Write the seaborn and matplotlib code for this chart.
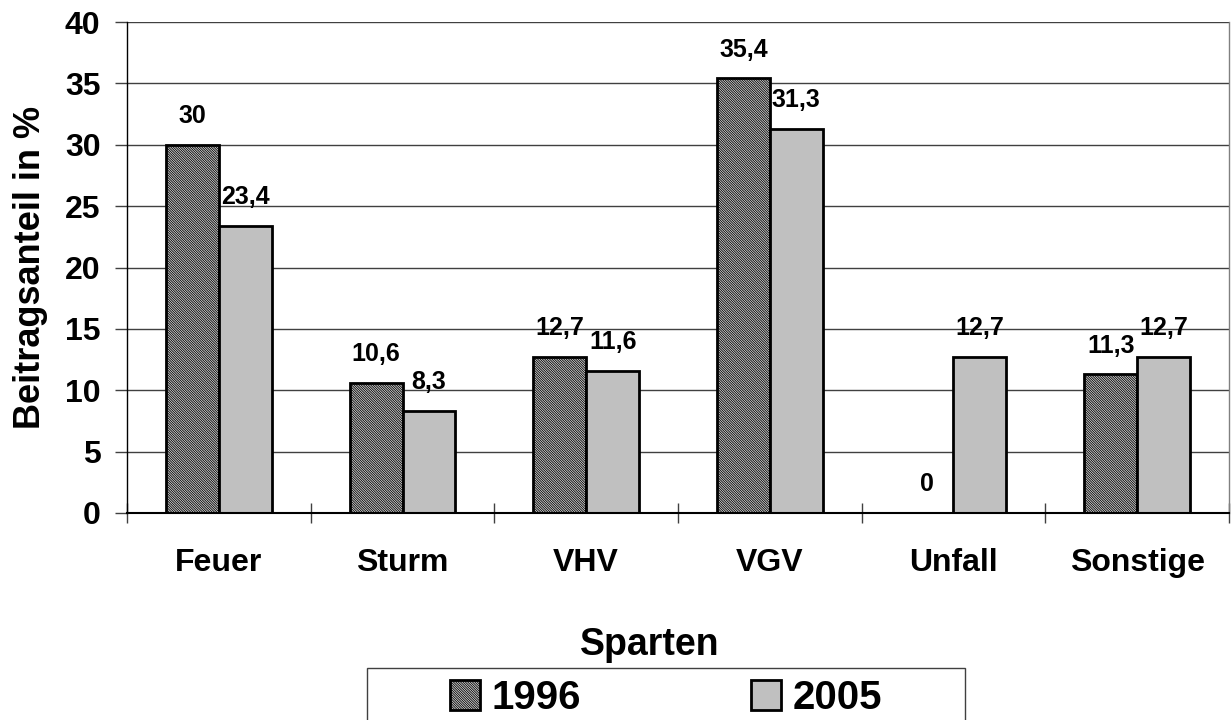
import pandas as pd
import matplotlib.pyplot as plt
import seaborn as sns
from matplotlib.patches import Rectangle

# Daten
sparten = ["Feuer", "Sturm", "VHV", "VGV", "Unfall", "Sonstige"]
jahre = ["1996", "2005"]
anteil_1996 = [30, 10.6, 12.7, 35.4, 0, 11.3]
anteil_2005 = [23.4, 8.3, 11.6, 31.3, 12.7, 12.7]
y_ticks = [0, 5, 10, 15, 20, 25, 30, 35, 40]

df = pd.DataFrame({
    "Sparte": sparten * 2,
    "Jahr": [jahre[0]] * len(sparten) + [jahre[1]] * len(sparten),
    "Anteil": anteil_1996 + anteil_2005,
})

sns.set_theme(style="white")
plt.rcParams["font.family"] = ["Liberation Sans", "DejaVu Sans"]
plt.rcParams["font.weight"] = "bold"
plt.rcParams["text.color"] = "black"
plt.rcParams["xtick.color"] = "black"
plt.rcParams["ytick.color"] = "black"
plt.rcParams["axes.labelcolor"] = "black"
plt.rcParams["hatch.linewidth"] = 0.6

fig = plt.figure(figsize=(12.31, 7.2), dpi=100)
ax = fig.add_axes([127 / 1231, 1 - 513 / 720, 1102 / 1231, 491 / 720])

sns.barplot(
    data=df, x="Sparte", y="Anteil", hue="Jahr", order=sparten, hue_order=jahre,
    palette=["#d8d8d8", "#c0c0c0"], width=0.577, edgecolor="black", linewidth=2,
    saturation=1, legend=False, ax=ax,
)

# 1996 schraffiert
for bar in ax.containers[0]:
    bar.set_hatch("\\" * 14)

# Werte über den Balken
for cont in ax.containers:
    ax.bar_label(
        cont, labels=[f"{b.get_height():g}".replace(".", ",") for b in cont],
        padding=12, fontsize=18, fontweight="bold", color="black",
    )

ax.set_ylim(0, 40)
ax.set_xlim(-0.5, 5.5)
ax.set_yticks(y_ticks)
ax.yaxis.grid(True, color="#404040", linewidth=1)
ax.set_axisbelow(True)
ax.tick_params(axis="y", which="major", direction="out", length=9, width=1,
               color="#404040", labelsize=23, pad=10, left=True)
ax.tick_params(axis="x", which="major", length=0, labelsize=23, pad=25)
ax.set_xticks([i - 0.5 for i in range(len(sparten) + 1)], minor=True)
ax.tick_params(axis="x", which="minor", direction="inout", length=15, width=1,
               color="#404040", bottom=True)
for lab in ax.get_xticklabels() + ax.get_yticklabels():
    lab.set_fontweight("bold")

ax.spines["top"].set_visible(False)
ax.spines["right"].set_color("#808080")
ax.spines["right"].set_linewidth(1)
ax.spines["left"].set_color("black")
ax.spines["left"].set_linewidth(1)
ax.spines["bottom"].set_color("black")
ax.spines["bottom"].set_linewidth(1.5)

ax.set_xlabel("Sparten", fontsize=27, fontweight="bold")
ax.set_ylabel("Beitragsanteil in %", fontsize=26, fontweight="bold")
ax.xaxis.set_label_coords((650 - 127) / 1102, -(627 - 513) / 491)
ax.yaxis.set_label_coords(-(127 - 48) / 1102, 0.5)

# Legende
leg = fig.legend(
    ax.containers, jahre, loc="center", bbox_to_anchor=(0.541, 1 - 698 / 720),
    ncol=2, frameon=False, handlelength=0.75, handleheight=0.75,
    handletextpad=0.3, columnspacing=4.2, prop={"weight": "bold", "size": 29},
)
fig.patches.append(Rectangle((367 / 1231, -0.05), 598 / 1231, 0.05 + 1 - 668 / 720,
                             transform=fig.transFigure, fill=False,
                             edgecolor="#404040", linewidth=1))

fig.savefig("out.png", dpi=100)
